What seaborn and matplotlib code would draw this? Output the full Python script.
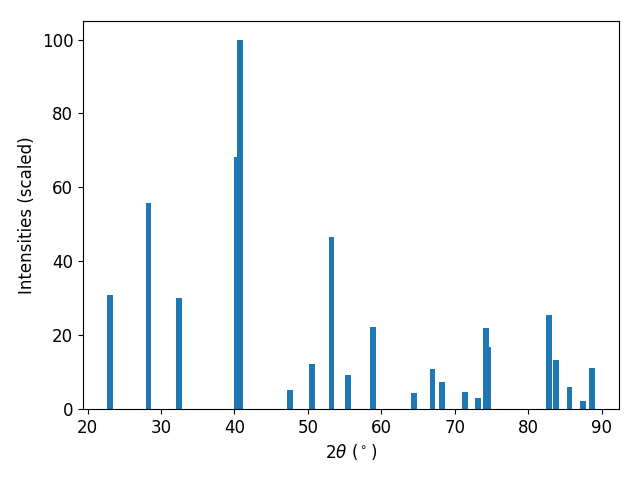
import matplotlib
matplotlib.use("Agg")
import matplotlib.pyplot as plt
import seaborn as sns
import numpy as np
import pandas as pd

two_theta = [23.1, 28.3, 32.5, 40.4, 40.8, 47.5, 50.5, 53.2, 55.5, 58.8,
             64.45, 66.95, 68.2, 71.35, 73.2, 74.2, 74.5, 82.75, 83.7, 85.6,
             87.45, 88.6]
intensity = [30.9, 55.8, 30.1, 68.3, 100.0, 5.1, 12.2, 46.6, 9.2, 22.2,
             4.3, 10.8, 7.3, 4.6, 3.0, 22.0, 16.8, 25.5, 13.3, 6.0,
             2.2, 11.1]

df = pd.DataFrame({"two_theta": two_theta, "intensity": intensity})

fig, ax = plt.subplots(figsize=(6.4, 4.8), dpi=100)
min_gap = np.min(np.diff(np.sort(np.array(two_theta))))
sns.barplot(data=df, x="two_theta", y="intensity", native_scale=True,
            width=0.8 / min_gap, color="#1f77b4", saturation=1, ax=ax,
            linewidth=0, errorbar=None)
lo = min(two_theta) - 0.4
hi = max(two_theta) + 0.4
pad = 0.05 * (hi - lo)
ax.set_xlim(lo - pad, hi + pad)
ax.set_ylim(0, 1.05 * max(intensity))
ax.set_xlabel(r"2$\theta$ ($^\circ$)", fontsize=12)
ax.set_ylabel("Intensities (scaled)", fontsize=12)
ax.tick_params(labelsize=12)
fig.subplots_adjust(left=0.1297, right=0.967, top=0.956, bottom=0.148)
fig.savefig("out.png", dpi=100)
